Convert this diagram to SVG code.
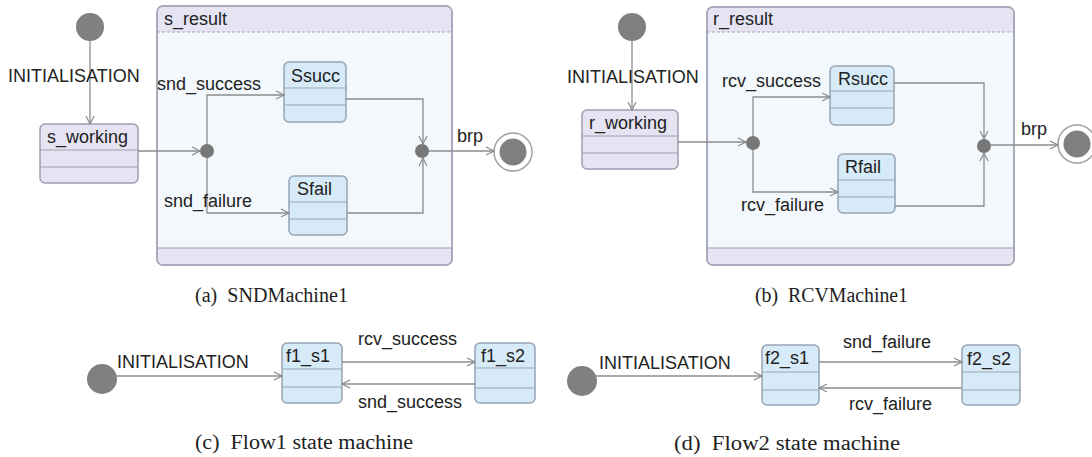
<svg xmlns="http://www.w3.org/2000/svg" width="1092" height="457" viewBox="0 0 1092 457">
<defs>
<marker id="arr" markerWidth="10" markerHeight="10" refX="9" refY="5" orient="auto" markerUnits="userSpaceOnUse">
<path d="M1,1 L9,5 L1,9" fill="none" stroke="#8c8c8c" stroke-width="1.2"/>
</marker>
</defs>
<style>
.lbl{font-family:"Liberation Sans",Arial,sans-serif;font-size:18px;fill:#222}
.cap{font-family:"Liberation Serif","Times New Roman",serif;font-size:20px;fill:#222}
.st{fill:#d6eaf8;stroke:#98a4b4;stroke-width:1.5}
.sw{fill:#e6e4f2;stroke:#a09cb2;stroke-width:1.5}
.sep{stroke:#98a4b4;stroke-width:1.2;fill:none}
.sepw{stroke:#a09cb2;stroke-width:1.2;fill:none}
.comp{fill:#f3f8fd;stroke:#a8a4ba;stroke-width:1.5}
.band{fill:#e6e4f2}
.init{fill:#808080}
.junc{fill:#777}
.fin{fill:#fff;stroke:#a0a0a0;stroke-width:1.5}
.con{fill:none;stroke:#8c8c8c;stroke-width:1.3;marker-end:url(#arr)}
</style>
<rect width="1092" height="457" fill="#fff"/>

<!-- (a) composite -->
<g id="s_result">
<rect class="comp" x="157" y="6" width="295" height="259" rx="6"/>
<path class="band" d="M158,32 V12 Q158,7 163,7 H446 Q451,7 451,12 V32 Z"/>
<path class="band" d="M158,248 V259 Q158,264 163,264 H446 Q451,264 451,259 V248 Z"/>
<line x1="157" y1="32" x2="452" y2="32" stroke="#a8a4ba" stroke-width="1" stroke-dasharray="3,2"/>
<line class="sepw" x1="157" y1="248" x2="452" y2="248"/>
<rect x="157" y="6" width="295" height="259" rx="6" fill="none" stroke="#a8a4ba" stroke-width="1.5"/>
<text class="lbl" x="164" y="25">s_result</text>
</g>
<g id="init_a"><circle class="init" cx="90" cy="27" r="14"/></g>
<g id="s_working">
<rect class="sw" x="40" y="124" width="98" height="59" rx="5"/>
<line class="sepw" x1="40" y1="150" x2="138" y2="150"/>
<line class="sepw" x1="40" y1="167" x2="138" y2="167"/>
<text class="lbl" x="47" y="143">s_working</text>
</g>
<g id="fork_a"><circle class="junc" cx="207" cy="151" r="7"/></g>
<g id="Ssucc">
<rect class="st" x="284" y="62" width="62" height="60" rx="5"/>
<line class="sep" x1="284" y1="88" x2="346" y2="88"/>
<line class="sep" x1="284" y1="105" x2="346" y2="105"/>
<text class="lbl" x="291" y="82">Ssucc</text>
</g>
<g id="Sfail">
<rect class="st" x="289" y="176" width="58" height="59" rx="5"/>
<line class="sep" x1="289" y1="202" x2="347" y2="202"/>
<line class="sep" x1="289" y1="219" x2="347" y2="219"/>
<text class="lbl" x="297" y="195">Sfail</text>
</g>
<g id="join_a"><circle class="junc" cx="422" cy="151" r="7"/></g>
<g id="final_a">
<circle class="fin" cx="513" cy="152" r="19"/>
<circle class="init" cx="513" cy="152" r="13.5"/>
</g>

<!-- (b) composite -->
<g id="r_result">
<rect class="comp" x="707" y="7" width="307" height="258" rx="6"/>
<path class="band" d="M708,32 V13 Q708,8 713,8 H1008 Q1013,8 1013,13 V32 Z"/>
<path class="band" d="M708,248 V259 Q708,264 713,264 H1008 Q1013,264 1013,259 V248 Z"/>
<line x1="707" y1="32" x2="1014" y2="32" stroke="#a8a4ba" stroke-width="1" stroke-dasharray="3,2"/>
<line class="sepw" x1="707" y1="248" x2="1014" y2="248"/>
<rect x="707" y="7" width="307" height="258" rx="6" fill="none" stroke="#a8a4ba" stroke-width="1.5"/>
<text class="lbl" x="713" y="25">r_result</text>
</g>
<g id="init_b"><circle class="init" cx="632" cy="27" r="14"/></g>
<g id="r_working">
<rect class="sw" x="582" y="110" width="96" height="59" rx="5"/>
<line class="sepw" x1="582" y1="136" x2="678" y2="136"/>
<line class="sepw" x1="582" y1="153" x2="678" y2="153"/>
<text class="lbl" x="589" y="129">r_working</text>
</g>
<g id="fork_b"><circle class="junc" cx="753" cy="143" r="7"/></g>
<g id="Rsucc">
<rect class="st" x="830" y="66" width="64" height="59" rx="5"/>
<line class="sep" x1="830" y1="91" x2="894" y2="91"/>
<line class="sep" x1="830" y1="108" x2="894" y2="108"/>
<text class="lbl" x="838" y="85">Rsucc</text>
</g>
<g id="Rfail">
<rect class="st" x="838" y="154" width="57" height="59" rx="5"/>
<line class="sep" x1="838" y1="180" x2="895" y2="180"/>
<line class="sep" x1="838" y1="197" x2="895" y2="197"/>
<text class="lbl" x="845" y="173">Rfail</text>
</g>
<g id="join_b"><circle class="junc" cx="984" cy="146" r="7"/></g>
<g id="final_b">
<circle class="fin" cx="1077" cy="144" r="19"/>
<circle class="init" cx="1077" cy="144" r="13.5"/>
</g>

<!-- (c) -->
<g id="init_c"><circle class="init" cx="102" cy="379" r="15"/></g>
<g id="f1_s1">
<rect class="st" x="282" y="343" width="60" height="60" rx="5"/>
<line class="sep" x1="282" y1="369" x2="342" y2="369"/>
<line class="sep" x1="282" y1="387" x2="342" y2="387"/>
<text class="lbl" x="286" y="362">f1_s1</text>
</g>
<g id="f1_s2">
<rect class="st" x="475" y="343" width="60" height="60" rx="5"/>
<line class="sep" x1="475" y1="368" x2="535" y2="368"/>
<line class="sep" x1="475" y1="388" x2="535" y2="388"/>
<text class="lbl" x="481" y="362">f1_s2</text>
</g>

<!-- (d) -->
<g id="init_d"><circle class="init" cx="582" cy="381" r="15"/></g>
<g id="f2_s1">
<rect class="st" x="762" y="345" width="57" height="60" rx="5"/>
<line class="sep" x1="762" y1="372" x2="819" y2="372"/>
<line class="sep" x1="762" y1="390" x2="819" y2="390"/>
<text class="lbl" x="765" y="364">f2_s1</text>
</g>
<g id="f2_s2">
<rect class="st" x="962" y="345" width="58" height="60" rx="5"/>
<line class="sep" x1="962" y1="372" x2="1020" y2="372"/>
<line class="sep" x1="962" y1="390" x2="1020" y2="390"/>
<text class="lbl" x="967" y="365">f2_s2</text>
</g>

<!-- connectors -->
<g id="connectors">
<path class="con" d="M90,41 V124"/>
<path class="con" d="M138,151 H200"/>
<path class="con" d="M207,144 V95 H284"/>
<path class="con" d="M207,158 V213 H289"/>
<path class="con" d="M346,99 H423 V144"/>
<path class="con" d="M347,213 H423 V158"/>
<path class="con" d="M429,151 H494"/>

<path class="con" d="M632,41 V110"/>
<path class="con" d="M678,142 H746"/>
<path class="con" d="M753,136 V97 H830"/>
<path class="con" d="M753,150 V192 H838"/>
<path class="con" d="M894,83 H984 V139"/>
<path class="con" d="M895,206 H984 V153"/>
<path class="con" d="M991,145 H1058"/>

<path class="con" d="M116,376 H282"/>
<path class="con" d="M342,362 H475"/>
<path class="con" d="M475,384 H342"/>

<path class="con" d="M596,376 H762"/>
<path class="con" d="M819,362 H962"/>
<path class="con" d="M962,388 H819"/>
</g>

<!-- connector labels -->
<g id="labels">
<text class="lbl" x="8" y="82">INITIALISATION</text>
<text class="lbl" x="157" y="90">snd_success</text>
<text class="lbl" x="164" y="207">snd_failure</text>
<text class="lbl" x="457" y="142">brp</text>
<text class="lbl" x="567" y="83">INITIALISATION</text>
<text class="lbl" x="722" y="87">rcv_success</text>
<text class="lbl" x="741" y="211">rcv_failure</text>
<text class="lbl" x="1021" y="135">brp</text>
<text class="lbl" x="117" y="368">INITIALISATION</text>
<text class="lbl" x="358" y="345">rcv_success</text>
<text class="lbl" x="358" y="408">snd_success</text>
<text class="lbl" x="599" y="369">INITIALISATION</text>
<text class="lbl" x="843" y="348">snd_failure</text>
<text class="lbl" x="849" y="410">rcv_failure</text>
</g>

<!-- captions -->
<g id="captions">
<text class="cap" x="195" y="302" xml:space="preserve" textLength="153" lengthAdjust="spacingAndGlyphs">(a)  SNDMachine1</text>
<text class="cap" x="755" y="302" xml:space="preserve" textLength="153" lengthAdjust="spacingAndGlyphs">(b)  RCVMachine1</text>
<text class="cap" x="195" y="449" xml:space="preserve" textLength="218" lengthAdjust="spacingAndGlyphs">(c)  Flow1 state machine</text>
<text class="cap" x="674" y="450" xml:space="preserve" textLength="226" lengthAdjust="spacingAndGlyphs">(d)  Flow2 state machine</text>
</g>
</svg>
